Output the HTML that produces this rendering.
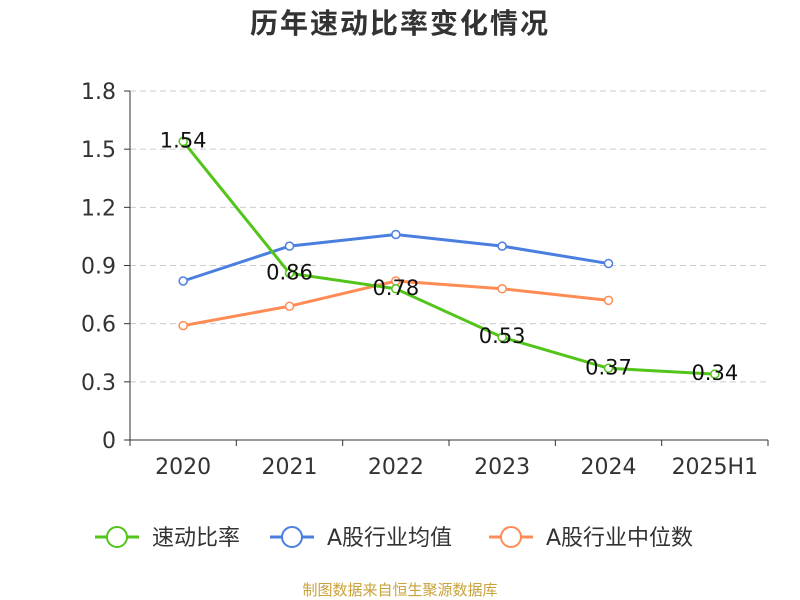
<!DOCTYPE html>
<html><head><meta charset="utf-8"><style>
body{margin:0;background:#fff;}
svg{display:block;font-family:"DejaVu Sans","Noto Sans CJK SC",sans-serif;}
</style></head><body>
<svg id="chart" width="800" height="600">
<text x="400" y="33" text-anchor="middle" font-size="28" font-weight="bold" fill="#333" letter-spacing="2">历年速动比率变化情况</text>
<g id="grid"></g><g id="axes"></g><g id="series"></g><g id="legend"></g>
<text x="400" y="595" text-anchor="middle" font-size="15" fill="#c9a23a">制图数据来自恒生聚源数据库</text>
</svg>
<script>
const categories=["2020","2021","2022","2023","2024","2025H1"];
const yTicks=[0,0.3,0.6,0.9,1.2,1.5,1.8];
const quickRatio=[1.54,0.86,0.78,0.53,0.37,0.34];
const industryAvg=[0.82,1.00,1.06,1.00,0.91];
const industryMedian=[0.59,0.69,0.82,0.78,0.72];
const seriesNames=["速动比率","A股行业均值","A股行业中位数"];
const colors=["#52c41a","#4a7fe0","#ff8c55"];
const NS="http://www.w3.org/2000/svg";
const x0=130,x1=768,yB=440,yT=91;
const band=(x1-x0)/categories.length;
const xs=i=>x0+band*(i+0.5);
const ys=v=>yB-(v/1.8)*(yB-yT);
function mk(tag,attrs,parent){const e=document.createElementNS(NS,tag);for(const k in attrs)e.setAttribute(k,attrs[k]);parent.appendChild(e);return e;}
const grid=document.getElementById('grid'),axes=document.getElementById('axes'),ser=document.getElementById('series'),leg=document.getElementById('legend');
yTicks.forEach(t=>{
 const y=ys(t);
 if(t>0){const l=mk('line',{x1:x0,x2:x1,y1:y,y2:y,stroke:'#ccc','stroke-dasharray':'6,4'},grid);
 
 }
 mk('line',{x1:x0-6,x2:x0,y1:y,y2:y,stroke:'#333'},axes);
 const tx=mk('text',{x:x0-14,y:y+8,'text-anchor':'end','font-size':22,fill:'#333'},axes);tx.textContent=t===0?'0':t.toFixed(1);
 
 
});
mk('line',{x1:x0,x2:x0,y1:yT,y2:yB,stroke:'#333'},axes);
mk('line',{x1:x0,x2:x1,y1:yB,y2:yB,stroke:'#333'},axes);
for(let i=0;i<=categories.length;i++){const x=x0+band*i;mk('line',{x1:x,x2:x,y1:yB,y2:yB+6,stroke:'#333'},axes);}
categories.forEach((c,i)=>{const t=mk('text',{x:xs(i),y:474,'text-anchor':'middle','font-size':22,fill:'#333'},axes);t.textContent=c;
 
 });
function drawSeries(vals,color,name,labels){
 const g=mk('g',{},ser);
 
 
 mk('polyline',{points:vals.map((v,i)=>xs(i)+','+ys(v)).join(' '),fill:'none',stroke:color,'stroke-width':3},g);
 vals.forEach((v,i)=>{const c=mk('circle',{cx:xs(i),cy:ys(v),r:4,fill:'#fff',stroke:color,'stroke-width':1.5},g);
  
  
  if(labels){const t=mk('text',{x:xs(i),y:ys(v)+6,'text-anchor':'middle','font-size':21,fill:'#111'},g);t.textContent=v.toFixed(2);
  
  }
 });
}
drawSeries(industryAvg,colors[1],'series-industry-average',false);
drawSeries(industryMedian,colors[2],'series-industry-median',false);
drawSeries(quickRatio,colors[0],'series-quick-ratio',true);
const lx=[95,270,489];
seriesNames.forEach((n,i)=>{
 const g=mk('g',{},leg);
 
 
 mk('line',{x1:lx[i],x2:lx[i]+44,y1:537,y2:537,stroke:colors[i],'stroke-width':3},g);
 mk('circle',{cx:lx[i]+22,cy:537,r:10,fill:'#fff',stroke:colors[i],'stroke-width':2},g);
 const t=mk('text',{x:lx[i]+57,y:545,'font-size':22,fill:'#333'},g);t.textContent=n;
});
</script>
</body></html>
